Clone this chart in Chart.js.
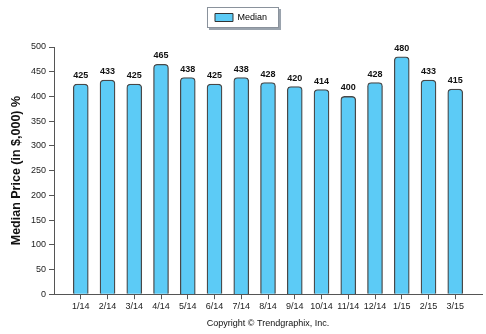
<!DOCTYPE html>
<html>
<head>
<meta charset="utf-8">
<script src="https://cdn.jsdelivr.net/npm/chart.js@4/dist/chart.umd.min.js"></script>
<style>
  html, body { margin: 0; padding: 0; background: #fff; }
  #wrap { width: 486px; height: 334px; }
</style>
</head>
<body>
<div id="wrap"><canvas id="chart" width="486" height="334"></canvas></div>
<script>
// monthly median price, $ thousands
const months = ["1/14","2/14","3/14","4/14","5/14","6/14","7/14","8/14","9/14","10/14","11/14","12/14","1/15","2/15","3/15"];
const median = [425, 433, 425, 465, 438, 425, 438, 428, 420, 414, 400, 428, 480, 433, 415];
const yTicks = [0, 50, 100, 150, 200, 250, 300, 350, 400, 450, 500];

const FONT = "'Liberation Sans', Arial, sans-serif";
const BAR_FILL = "#5ccbf6";
const BAR_EDGE = "#484848";
const AXIS = "#555";

// value labels on top of each bar, copyright line under the plot
const valueLabels = {
  id: "valueLabels",
  afterDatasetsDraw(chart) {
    const ctx = chart.ctx;
    const meta = chart.getDatasetMeta(0);
    ctx.save();
    ctx.font = "bold 9px " + FONT;
    ctx.fillStyle = "#111";
    ctx.textAlign = "center";
    ctx.textBaseline = "bottom";
    meta.data.forEach((bar, i) => {
      ctx.fillText(median[i], bar.x, bar.y - 4);
    });
    const area = chart.chartArea;
    ctx.font = "9px " + FONT;
    ctx.textBaseline = "middle";
    ctx.fillText("Copyright \u00a9 Trendgraphix, Inc.", (area.left + area.right) / 2, 324);
    ctx.restore();
  }
};

// framed legend with a little drop shadow, plus extra room under it
const legendFrame = {
  id: "legendFrame",
  beforeInit(chart) {
    const fit = chart.legend.fit;
    chart.legend.fit = function () {
      fit.call(this);
      this.height += 15;
    };
  },
  beforeDraw(chart) {
    const hb = chart.legend.legendHitBoxes[0];
    if (!hb) return;
    const ctx = chart.ctx;
    const x = hb.left - 8, y = hb.top - 6, w = hb.width + 20, h = hb.height + 12;
    ctx.save();
    ctx.fillStyle = "#9aa3ad";
    ctx.fillRect(x + 2, y + 2, w, h);
    ctx.fillStyle = "#fff";
    ctx.fillRect(x, y, w, h);
    ctx.strokeStyle = "#8a929c";
    ctx.lineWidth = 1;
    ctx.strokeRect(x + 0.5, y + 0.5, w - 1, h - 1);
    ctx.restore();
  }
};

new Chart(document.getElementById("chart"), {
  type: "bar",
  data: {
    datasets: [{
      label: "Median",
      data: median.map((v, i) => ({ x: i + 1, y: v })),
      backgroundColor: BAR_FILL,
      borderColor: BAR_EDGE,
      borderWidth: { top: 1.3, left: 1.3, right: 1.3, bottom: 0 },
      borderRadius: { topLeft: 4, topRight: 4 },
      borderSkipped: false,
      barThickness: 15
    }]
  },
  options: {
    responsive: false,
    animation: false,
    layout: { padding: { left: 0, right: 4, top: 0, bottom: 20 } },
    plugins: {
      legend: {
        position: "top",
        labels: {
          font: { family: FONT, size: 9 },
          color: "#111",
          boxWidth: 18,
          boxHeight: 8,
          padding: 13,
          generateLabels: () => [{
            text: "Median",
            fillStyle: BAR_FILL,
            strokeStyle: "#333",
            lineWidth: 1,
            datasetIndex: 0
          }]
        }
      },
      tooltip: { enabled: false }
    },
    scales: {
      x: {
        type: "linear",
        min: 0,
        max: 16,
        offset: false,
        afterBuildTicks: (axis) => {
          axis.ticks = months.map((m, i) => ({ value: i + 1 }));
        },
        ticks: {
          autoSkip: false,
          maxRotation: 0,
          font: { family: FONT, size: 9 },
          color: "#222",
          padding: 2,
          callback: (v) => months[v - 1]
        },
        grid: { offset: false, drawOnChartArea: false, tickLength: 5, color: AXIS },
        border: { color: AXIS, width: 1 }
      },
      y: {
        min: 0,
        max: 500,
        afterBuildTicks: (axis) => {
          axis.ticks = yTicks.map(v => ({ value: v }));
        },
        ticks: {
          font: { family: FONT, size: 9 },
          color: "#222",
          padding: 3
        },
        grid: { drawOnChartArea: false, tickLength: 5, color: AXIS },
        border: { color: AXIS, width: 1 },
        title: {
          display: true,
          text: "Median Price (in $,000) %",
          font: { family: FONT, size: 12.5, weight: "bold" },
          color: "#111",
          padding: { top: 9, bottom: 4 }
        }
      }
    }
  },
  plugins: [legendFrame, valueLabels]
});
</script>
</body>
</html>
